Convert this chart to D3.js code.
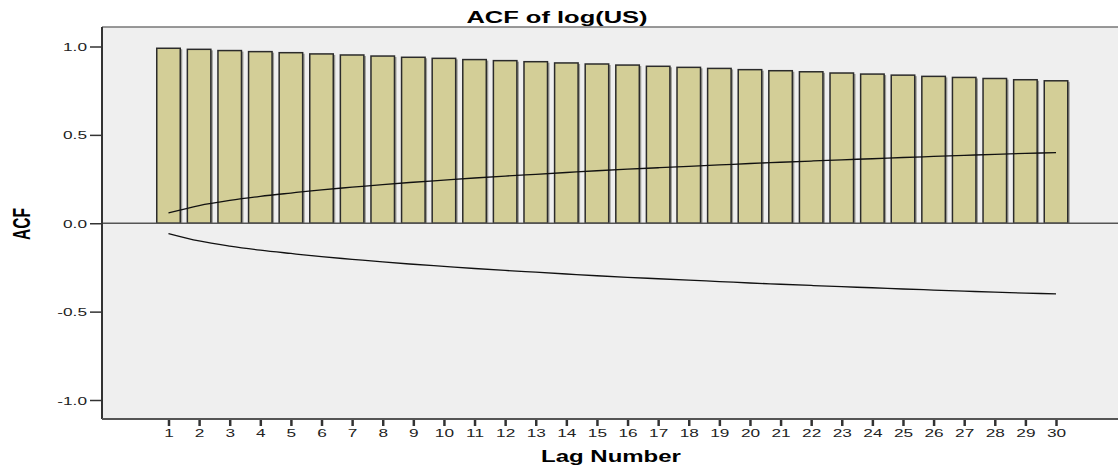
<!DOCTYPE html>
<html>
<head>
<meta charset="utf-8">
<script src="https://cdn.jsdelivr.net/npm/d3@7"></script>
<style>
  body { margin: 0; background: #fff; }
  text { font-family: "Liberation Sans", Arial, sans-serif; }
</style>
</head>
<body>
<div id="root"></div>
<script>
const width = 1118;
const height = 468;

// lag numbers, acf values and the +/- confidence limits
const lags = [1, 2, 3, 4, 5, 6, 7, 8, 9, 10, 11, 12, 13, 14, 15,
    16, 17, 18, 19, 20, 21, 22, 23, 24, 25, 26, 27, 28, 29, 30];
const acf = [0.990, 0.984, 0.977, 0.971, 0.965, 0.958, 0.952, 0.946, 0.939, 0.933,
    0.926, 0.920, 0.914, 0.907, 0.901, 0.895, 0.888, 0.882, 0.876, 0.869,
    0.863, 0.857, 0.850, 0.844, 0.838, 0.831, 0.825, 0.819, 0.812, 0.806];
const upperLimit = [0.058, 0.100, 0.129, 0.152, 0.171, 0.189, 0.204, 0.219, 0.232, 0.244,
    0.256, 0.267, 0.277, 0.287, 0.297, 0.306, 0.314, 0.322, 0.330, 0.338,
    0.345, 0.352, 0.359, 0.365, 0.372, 0.378, 0.384, 0.390, 0.395, 0.400];
const lowerLimit = upperLimit.map(v => -v);
const yTicks = [-1.0, -0.5, 0.0, 0.5, 1.0];

const plot = {left: 102, top: 27, right: width, bottom: 419};
const stretch = 1.5; // the picture is squashed wide, text too

const x = d3.scaleLinear().domain([1, 30]).range([168.5, 1056]);
const y = d3.scaleLinear().domain([-1, 1]).range([400, 46.5]);
const barW = 23.5;

const svg = d3.select('#root')
    .append('svg')
    .attr('width', width)
    .attr('height', height);

// plot background
svg.append('rect')
    .attr('x', plot.left)
    .attr('y', plot.top)
    .attr('width', plot.right - plot.left)
    .attr('height', plot.bottom - plot.top)
    .attr('fill', '#efefef');

svg.append('line')
    .attr('x1', plot.left).attr('x2', plot.right)
    .attr('y1', plot.top).attr('y2', plot.top)
    .attr('stroke', '#777').attr('stroke-width', 1.5);

// bars with a little drop shadow
const bars = svg.append('g');
bars.selectAll('rect.shadow')
    .data(lags)
    .join('rect')
    .attr('class', 'shadow')
    .attr('x', d => x(d) - barW / 2 + 2)
    .attr('y', (d, i) => y(acf[i]) + 1)
    .attr('width', barW)
    .attr('height', (d, i) => y(0) - y(acf[i]) - 1)
    .attr('fill', '#7a7a72')
    .attr('opacity', 0.7);
bars.selectAll('rect.bar')
    .data(lags)
    .join('rect')
    .attr('class', 'bar')
    .attr('x', d => x(d) - barW / 2)
    .attr('y', (d, i) => y(acf[i]))
    .attr('width', barW)
    .attr('height', (d, i) => y(0) - y(acf[i]))
    .attr('fill', '#d3ce97')
    .attr('stroke', '#2b2b2b')
    .attr('stroke-width', 1.5);

// zero line
svg.append('line')
    .attr('x1', plot.left).attr('x2', plot.right)
    .attr('y1', y(0)).attr('y2', y(0))
    .attr('stroke', '#555').attr('stroke-width', 1.5);

// confidence limits
const line = d3.line()
    .x((d, i) => x(lags[i]))
    .y(d => y(d))
    .curve(d3.curveMonotoneX);
[upperLimit, lowerLimit].forEach(series => {
    svg.append('path')
        .datum(series)
        .attr('d', line)
        .attr('fill', 'none')
        .attr('stroke', '#111')
        .attr('stroke-width', 1.3);
});

// y axis
const yAxis = svg.append('g')
    .attr('transform', `translate(${plot.left},0)`)
    .call(d3.axisLeft(y).tickValues(yTicks).tickFormat(d => d.toFixed(1)).tickSize(12).tickSizeOuter(0));
yAxis.select('.domain').remove();
yAxis.append('line')
    .attr('y1', plot.top).attr('y2', plot.bottom)
    .attr('stroke', '#333').attr('stroke-width', 2);
yAxis.selectAll('.tick line').attr('stroke', '#333').attr('stroke-width', 1.5);
yAxis.selectAll('.tick text')
    .attr('x', 0)
    .attr('dy', '0.35em')
    .attr('transform', `translate(-15,0) scale(${stretch},1)`)
    .attr('fill', '#222')
    .style('font-size', '11.5px');

// x axis
const xAxis = svg.append('g')
    .attr('transform', `translate(0,${plot.bottom})`)
    .call(d3.axisBottom(x).tickValues(lags).tickFormat(d3.format('d')).tickSize(7).tickSizeOuter(0));
xAxis.select('.domain').remove();
xAxis.append('line')
    .attr('x1', plot.left).attr('x2', plot.right)
    .attr('stroke', '#555').attr('stroke-width', 2);
xAxis.selectAll('.tick line').attr('stroke', '#333').attr('stroke-width', 2.5);
xAxis.selectAll('.tick text')
    .attr('y', 18)
    .attr('dy', 0)
    .attr('transform', `scale(${stretch},1)`)
    .attr('fill', '#222')
    .style('font-size', '11.5px');

// titles
svg.append('text')
    .attr('transform', `translate(557,23) scale(${stretch},1)`)
    .attr('text-anchor', 'middle')
    .style('font-size', '17px')
    .style('font-weight', 'bold')
    .text('ACF of log(US)');

svg.append('text')
    .attr('transform', `translate(611,462) scale(${stretch},1)`)
    .attr('text-anchor', 'middle')
    .style('font-size', '16px')
    .style('font-weight', 'bold')
    .text('Lag Number');

svg.append('text')
    .attr('transform', `translate(30,224) scale(${stretch},1) rotate(-90)`)
    .attr('text-anchor', 'middle')
    .style('font-size', '15.5px')
    .style('font-weight', 'bold')
    .text('ACF');
</script>
</body>
</html>
